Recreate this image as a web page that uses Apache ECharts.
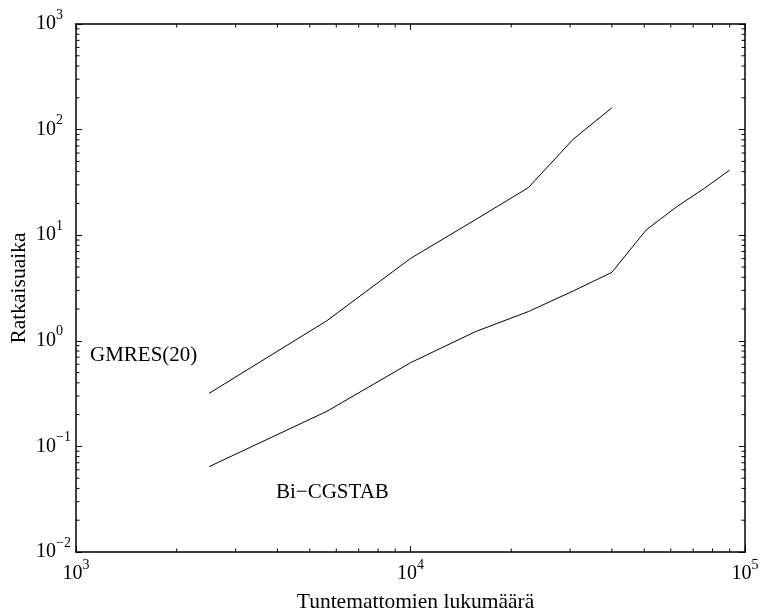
<!DOCTYPE html>
<html>
<head>
<meta charset="utf-8">
<script src="https://cdn.jsdelivr.net/npm/echarts@6/dist/echarts.min.js"></script>
<style>
  html, body { margin: 0; padding: 0; background: #fff; }
  #chart { width: 763px; height: 610px; }
</style>
</head>
<body>
<div id="chart"></div>
<script>
// Problem sizes (unknowns) for the two iterative solvers
const gmresN = [2500, 5625, 10000, 15625, 22500, 30625, 40000];
const gmresTime = [0.318, 1.55, 6.02, 14.0, 28.2, 80.9, 161];

const bicgN = [2500, 5625, 10000, 15625, 22500, 30625, 40000, 50625, 62500, 75625, 90000];
const bicgTime = [0.0643, 0.215, 0.620, 1.22, 1.89, 2.96, 4.45, 11.2, 18.6, 27.8, 41.4];

// Axis ranges (decades)
const xDecades = [3, 4, 5];
const yDecades = [-2, -1, 0, 1, 2, 3];

const FONT = '"Liberation Serif", "DejaVu Serif", serif';

function pairs(xs, ys) { return xs.map((x, i) => [x, ys[i]]); }

function powLabel(v) {
  const e = Math.round(Math.log10(v));
  return '{b|10}{s|' + String(e).replace('-', '\u2212') + '}';
}

const richPow = {
  b: { fontSize: 20, fontFamily: FONT, color: '#000' },
  s: { fontSize: 14, fontFamily: FONT, color: '#000', padding: [0, 0, 18, 0] }
};

// Minor tick values 2..9 within each decade
function minorValues(decs) {
  const out = [];
  for (let i = 0; i < decs.length - 1; i++) {
    for (let m = 2; m <= 9; m++) out.push(m * Math.pow(10, decs[i]));
  }
  return out;
}
const xMinor = minorValues(xDecades);
const yMinor = minorValues(yDecades);

const xMin = Math.pow(10, xDecades[0]), xMax = Math.pow(10, xDecades[xDecades.length - 1]);
const yMin = Math.pow(10, yDecades[0]), yMax = Math.pow(10, yDecades[yDecades.length - 1]);

const chart = echarts.init(document.getElementById('chart'), null, { renderer: 'canvas' });

const axisLine = { show: true, lineStyle: { color: '#000', width: 1.5 } };
const majorTick = { show: true, inside: true, length: 6, lineStyle: { color: '#000', width: 1 } };

chart.setOption({
  animation: false,
  backgroundColor: '#fff',
  grid: { left: 76, top: 24, right: 18, bottom: 58, containLabel: false, outerBoundsMode: 'none' },
  xAxis: [
    {
      type: 'log', logBase: 10, min: xMin, max: xMax, position: 'bottom',
      axisLine: axisLine, axisTick: majorTick, splitLine: { show: false },
      axisLabel: { formatter: powLabel, rich: richPow, margin: 6 },
      name: 'Tuntemattomien lukumäärä', nameLocation: 'middle', nameGap: 39,
      nameTextStyle: { fontFamily: FONT, fontSize: 21.5, color: '#000', padding: [0, 0, 0, 10] }
    },
    {
      type: 'log', logBase: 10, min: xMin, max: xMax, position: 'top',
      axisLine: axisLine, axisTick: majorTick, splitLine: { show: false },
      axisLabel: { show: false }
    }
  ],
  yAxis: [
    {
      type: 'log', logBase: 10, min: yMin, max: yMax, position: 'left',
      axisLine: axisLine, axisTick: majorTick, splitLine: { show: false },
      axisLabel: { formatter: powLabel, rich: richPow, margin: 40, align: 'left' },
      name: 'Ratkaisuaika', nameLocation: 'middle', nameGap: 46, nameMoveOverlap: false,
      nameTextStyle: { fontFamily: FONT, fontSize: 21.5, color: '#000' }
    },
    {
      type: 'log', logBase: 10, min: yMin, max: yMax, position: 'right',
      axisLine: axisLine, axisTick: majorTick, splitLine: { show: false },
      axisLabel: { show: false }
    }
  ],
  graphic: [
    { type: 'text', left: 90, top: 345, style: { text: 'GMRES(20)', font: '21px ' + FONT, fill: '#000' } },
    { type: 'text', left: 276, top: 482, style: { text: 'Bi\u2212CGSTAB', font: '21px ' + FONT, fill: '#000' } }
  ],
  series: [
    {
      name: 'GMRES(20)', type: 'line', data: pairs(gmresN, gmresTime),
      showSymbol: false, symbol: 'none',
      lineStyle: { color: '#000', width: 1 }, silent: true
    },
    {
      name: 'Bi-CGSTAB', type: 'line', data: pairs(bicgN, bicgTime),
      showSymbol: false, symbol: 'none',
      lineStyle: { color: '#000', width: 1 }, silent: true
    },
    {
      // inward minor ticks on all four sides of the box
      type: 'custom', silent: true, data: [0],
      renderItem: function (params, api) {
        const children = [];
        const len = 3.5;
        xMinor.forEach(function (v) {
          const b = api.coord([v, yMin]);
          const t = api.coord([v, yMax]);
          children.push({ type: 'line', shape: { x1: b[0], y1: b[1], x2: b[0], y2: b[1] - len }, style: { stroke: '#000', lineWidth: 1 } });
          children.push({ type: 'line', shape: { x1: t[0], y1: t[1], x2: t[0], y2: t[1] + len }, style: { stroke: '#000', lineWidth: 1 } });
        });
        yMinor.forEach(function (v) {
          const l = api.coord([xMin, v]);
          const r = api.coord([xMax, v]);
          children.push({ type: 'line', shape: { x1: l[0], y1: l[1], x2: l[0] + len, y2: l[1] }, style: { stroke: '#000', lineWidth: 1 } });
          children.push({ type: 'line', shape: { x1: r[0], y1: r[1], x2: r[0] - len, y2: r[1] }, style: { stroke: '#000', lineWidth: 1 } });
        });
        return { type: 'group', children: children };
      }
    }
  ]
});
</script>
</body>
</html>
